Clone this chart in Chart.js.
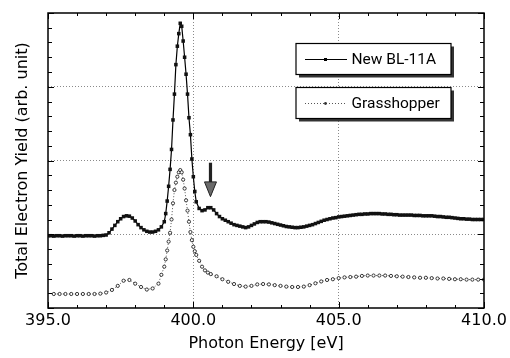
<!DOCTYPE html>
<html><head><meta charset="utf-8">
<script src="https://cdn.jsdelivr.net/npm/chart.js@4/dist/chart.umd.min.js"></script>
<style>html,body{margin:0;padding:0;background:#fff}</style>
</head><body>
<canvas id="c" width="510" height="358" style="display:block;width:510px;height:358px"></canvas>
<script>
// ---- data ----
const xTitle = 'Photon Energy [eV]';
const yTitle = 'Total Electron Yield (arb. unit)';
const xMajorTicks = [395, 400, 405, 410];
const xMinorTicks = [395,396,397,398,399,400,401,402,403,404,405,406,407,408,409,410];
const yMinorTicks = [0,0.2,0.4,0.6,0.8,1,1.2,1.4,1.6,1.8,2,2.2,2.4,2.6,2.8,3,3.2,3.4,3.6,3.8,4];

const bl11aLabel = 'New BL-11A';
const bl11aEnergy = [
395.0,395.1,395.2,395.3,395.4,395.5,395.6,395.7,395.8,395.9,
396.0,396.1,396.2,396.3,396.4,396.5,396.6,396.7,396.8,396.9,
397.0,397.1,397.2,397.3,397.4,397.5,397.6,397.7,397.8,397.9,
398.0,398.1,398.2,398.3,398.4,398.5,398.6,398.7,398.8,398.9,
399.0,399.05,399.1,399.15,399.2,399.25,399.3,399.35,399.4,399.45,
399.5,399.55,399.6,399.65,399.7,399.75,399.8,399.85,399.9,399.95,
400.0,400.05,400.1,400.2,400.3,400.4,400.5,400.6,400.7,400.8,400.9,
401.0,401.1,401.2,401.3,401.4,401.5,401.6,401.7,401.8,401.9,
402.0,402.1,402.2,402.3,402.4,402.5,402.6,402.7,402.8,402.9,
403.0,403.1,403.2,403.3,403.4,403.5,403.6,403.7,403.8,403.9,
404.0,404.1,404.2,404.3,404.4,404.5,404.6,404.7,404.8,404.9,
405.0,405.1,405.2,405.3,405.4,405.5,405.6,405.7,405.8,405.9,
406.0,406.1,406.2,406.3,406.4,406.5,406.6,406.7,406.8,406.9,
407.0,407.1,407.2,407.3,407.4,407.5,407.6,407.7,407.8,407.9,
408.0,408.1,408.2,408.3,408.4,408.5,408.6,408.7,408.8,408.9,
409.0,409.1,409.2,409.3,409.4,409.5,409.6,409.7,409.8,409.9,
410.0];
const bl11aYield = [
0.98,0.98,0.975,0.98,0.98,0.975,0.98,0.98,0.98,0.975,
0.98,0.98,0.975,0.98,0.98,0.98,0.975,0.98,0.98,0.985,
0.99,1.02,1.07,1.12,1.17,1.21,1.24,1.25,1.245,1.22,
1.18,1.13,1.09,1.06,1.04,1.03,1.03,1.04,1.06,1.10,
1.17,1.28,1.45,1.65,1.88,2.15,2.55,2.90,3.30,3.55,
3.72,3.86,3.82,3.62,3.40,3.17,2.90,2.58,2.35,2.02,
1.78,1.58,1.44,1.35,1.32,1.33,1.36,1.36,1.33,1.28,1.24,
1.21,1.19,1.17,1.15,1.13,1.12,1.11,1.10,1.09,1.10,
1.12,1.14,1.16,1.17,1.17,1.17,1.165,1.155,1.145,1.135,
1.125,1.115,1.105,1.10,1.095,1.09,1.09,1.095,1.10,1.11,
1.12,1.13,1.145,1.16,1.175,1.19,1.20,1.21,1.22,1.225,
1.235,1.24,1.245,1.25,1.255,1.26,1.265,1.27,1.27,1.275,
1.275,1.28,1.28,1.28,1.28,1.275,1.275,1.27,1.27,1.265,
1.265,1.26,1.26,1.26,1.26,1.26,1.255,1.255,1.255,1.25,
1.25,1.25,1.25,1.245,1.24,1.24,1.235,1.23,1.23,1.225,
1.22,1.215,1.21,1.21,1.205,1.205,1.20,1.20,1.20,1.20,
1.20];

const ghLabel = 'Grasshopper';
const ghEnergy = [
395.2,395.4,395.6,395.8,396.0,396.2,396.4,396.6,396.8,397.0,
397.2,397.4,397.6,397.8,398.0,398.2,398.4,398.6,398.8,398.9,
399.0,399.05,399.1,399.15,399.2,399.25,399.3,399.35,399.4,399.45,
399.5,399.55,399.6,399.65,399.7,399.75,399.8,399.85,399.9,399.95,
400.0,400.05,400.1,400.2,400.3,400.4,400.5,400.6,
400.8,401.0,401.2,401.4,401.6,401.8,402.0,402.2,402.4,402.6,402.8,
403.0,403.2,403.4,403.6,403.8,404.0,404.2,404.4,404.6,404.8,
405.0,405.2,405.4,405.6,405.8,406.0,406.2,406.4,406.6,406.8,
407.0,407.2,407.4,407.6,407.8,408.0,408.2,408.4,408.6,408.8,
409.0,409.2,409.4,409.6,409.8,410.0];
const ghYield = [
0.19,0.19,0.19,0.19,0.19,0.19,0.19,0.19,0.195,0.21,
0.245,0.30,0.37,0.38,0.33,0.285,0.25,0.265,0.33,0.45,
0.56,0.66,0.78,0.90,1.02,1.20,1.42,1.60,1.70,1.78,
1.84,1.87,1.84,1.74,1.62,1.46,1.32,1.17,1.03,0.92,
0.83,0.77,0.72,0.64,0.56,0.51,0.48,0.46,
0.43,0.39,0.355,0.325,0.30,0.29,0.30,0.32,0.325,0.32,0.31,
0.30,0.29,0.285,0.285,0.29,0.31,0.335,0.36,0.38,0.39,
0.405,0.415,0.42,0.425,0.435,0.44,0.44,0.44,0.44,0.435,
0.43,0.425,0.42,0.415,0.41,0.41,0.405,0.40,0.40,0.395,
0.39,0.39,0.385,0.385,0.385,0.385];

// arrow annotation (data units)
const arrowEnergy = 400.59;
const arrowTipYield = 1.51;
const arrowHeadYield = 1.71;
const arrowTailYield = 1.97;

// ---- plugins ----
const decorPlugin = {
  id: 'decor',
  afterDatasetsDraw(chart) {
    const ctx = chart.ctx, a = chart.chartArea, xs = chart.scales.x, ys = chart.scales.y;
    ctx.save();
    // arrow
    const ax = xs.getPixelForValue(arrowEnergy);
    const tipY = ys.getPixelForValue(arrowTipYield);
    const headY = ys.getPixelForValue(arrowHeadYield);
    const tailY = ys.getPixelForValue(arrowTailYield);
    ctx.fillStyle = '#222';
    ctx.fillRect(ax - 1.6, tailY, 3.2, headY - tailY + 1);
    ctx.beginPath();
    ctx.moveTo(ax - 6, headY); ctx.lineTo(ax + 6, headY); ctx.lineTo(ax, tipY); ctx.closePath();
    ctx.fillStyle = '#6a6a6a'; ctx.fill();
    ctx.strokeStyle = '#222'; ctx.lineWidth = 1; ctx.stroke();
    // frame
    ctx.strokeStyle = '#000'; ctx.lineWidth = 1.5;
    ctx.strokeRect(a.left, a.top, a.right - a.left, a.bottom - a.top);
    // inward ticks
    ctx.lineWidth = 1;
    ctx.beginPath();
    for (const v of xMinorTicks) {
      const px = Math.round(xs.getPixelForValue(v)) + 0.5;
      const len = xMajorTicks.includes(v) ? 6 : 3;
      ctx.moveTo(px, a.bottom); ctx.lineTo(px, a.bottom - len);
      ctx.moveTo(px, a.top); ctx.lineTo(px, a.top + len);
    }
    for (const v of yMinorTicks) {
      const py = Math.round(ys.getPixelForValue(v)) + 0.5;
      const len = Number.isInteger(v) ? 6 : 4;
      ctx.moveTo(a.left, py); ctx.lineTo(a.left + len, py);
      ctx.moveTo(a.right, py); ctx.lineTo(a.right - len, py);
    }
    ctx.stroke();
    ctx.restore();
  },
  afterDraw(chart) {
    const ctx = chart.ctx;
    const ds = chart.data.datasets;
    const boxes = [{y: 43.5}, {y: 87.5}];
    ctx.save();
    boxes.forEach((b, i) => {
      const bx = 296, w = 155, h = 31;
      ctx.fillStyle = '#333';
      ctx.fillRect(bx + 3, b.y + 3, w, h);
      ctx.fillStyle = '#fff';
      ctx.fillRect(bx, b.y, w, h);
      ctx.strokeStyle = '#000'; ctx.lineWidth = 1.2;
      ctx.strokeRect(bx, b.y, w, h);
      const cy = b.y + h / 2 + 0.5;
      const d = ds[i];
      ctx.strokeStyle = d.borderColor; ctx.lineWidth = 1;
      ctx.setLineDash(d.borderDash || []);
      ctx.beginPath(); ctx.moveTo(305, cy); ctx.lineTo(347, cy); ctx.stroke();
      ctx.setLineDash([]);
      if (i === 0) { ctx.fillStyle = '#000'; ctx.fillRect(324, cy - 1.5, 3, 3); }
      else { ctx.beginPath(); ctx.arc(325.5, cy, 1.4, 0, Math.PI * 2); ctx.fillStyle = '#333'; ctx.fill(); }
      ctx.fillStyle = '#000';
      ctx.font = '15.5px Roboto';
      ctx.textBaseline = 'middle';
      ctx.textAlign = 'left';
      ctx.fillText(d.label, 351.5, cy + 0.5);
    });
    ctx.restore();
  }
};

Chart.defaults.font.family = 'DejaVu Sans';
Chart.defaults.font.size = 16;
Chart.defaults.color = '#000';

new Chart(document.getElementById('c'), {
  type: 'line',
  data: {
    datasets: [
      {
        label: bl11aLabel,
        data: bl11aEnergy.map((e, i) => ({x: e, y: bl11aYield[i]})),
        borderColor: '#000', borderWidth: 1.2,
        pointStyle: 'rect', pointRadius: 2.5, pointBackgroundColor: '#111', pointBorderWidth: 0,
        tension: 0
      },
      {
        label: ghLabel,
        data: ghEnergy.map((e, i) => ({x: e, y: ghYield[i]})),
        borderColor: '#555', borderWidth: 1, borderDash: [1, 2],
        pointStyle: 'circle', pointRadius: 1.6, pointBackgroundColor: '#fff',
        pointBorderColor: '#222', pointBorderWidth: 0.9,
        tension: 0
      }
    ]
  },
  options: {
    responsive: false, animation: false, devicePixelRatio: 1,
    layout: {padding: {top: 13, right: 26, left: 0, bottom: 0}},
    plugins: {legend: {display: false}, tooltip: {enabled: false}},
    scales: {
      x: {
        type: 'linear', min: 395, max: 410,
        afterFit: s => { s.height = 50; },
        afterBuildTicks: s => { s.ticks = xMajorTicks.map(v => ({value: v})); },
        ticks: {padding: 3, maxRotation: 0, callback: v => v.toFixed(1), font: {size: 16}},
        grid: {drawTicks: false, lineWidth: 1,
          color: c => (c.tick && (c.tick.value === 395 || c.tick.value === 410)) ? 'rgba(0,0,0,0)' : '#8a8a8a'},
        border: {display: false, dash: [1, 2]},
        title: {display: true, text: xTitle, padding: {top: 0, bottom: 5}, font: {size: 16}}
      },
      y: {
        type: 'linear', min: 0, max: 4,
        afterFit: s => { s.width = 48; },
        ticks: {stepSize: 1, display: false},
        grid: {drawTicks: false, lineWidth: 1,
          color: c => (c.tick && (c.tick.value === 0 || c.tick.value === 4)) ? 'rgba(0,0,0,0)' : '#8a8a8a'},
        border: {display: false, dash: [1, 2]},
        title: {display: true, text: yTitle, padding: {top: 13, bottom: 0}, font: {size: 16}}
      }
    }
  },
  plugins: [decorPlugin]
});
</script>
</body></html>
